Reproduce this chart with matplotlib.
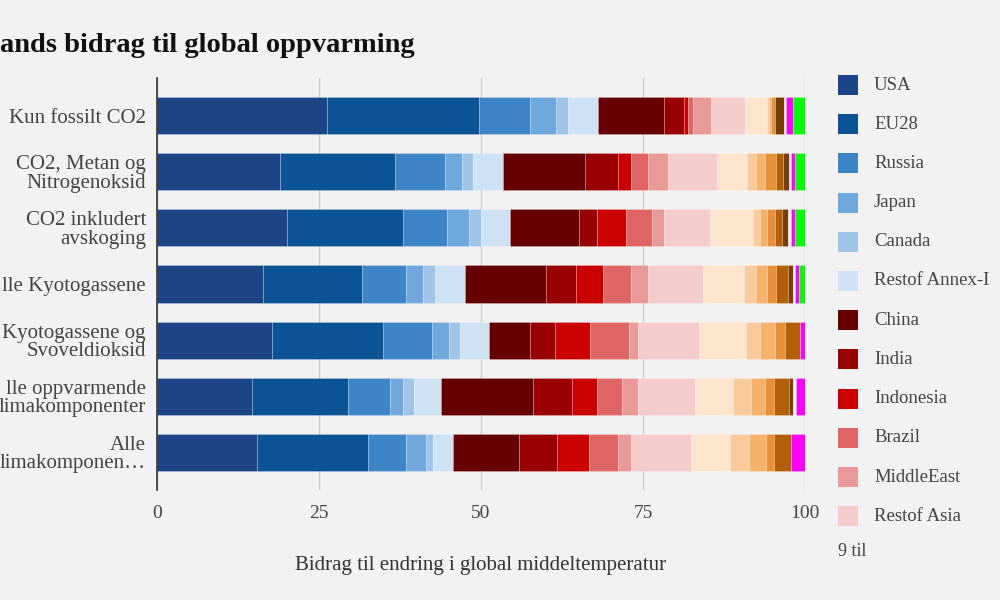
import numpy as np
import matplotlib
matplotlib.use("Agg")
import matplotlib.pyplot as plt
from matplotlib.patches import Rectangle

plt.rcParams['font.family'] = ['Liberation Serif', 'DejaVu Serif']

# categories (top to bottom), as they show in the cropped picture
categories = ["Kun fossilt CO2",
              "CO2, Metan og\nNitrogenoksid",
              "CO2 inkludert\navskoging",
              "lle Kyotogassene",
              "Kyotogassene og\nSvoveldioksid",
              "lle oppvarmende\nlimakomponenter",
              "Alle\nlimakomponen\u2026"]

regions = ["USA", "EU28", "Russia", "Japan", "Canada", "Restof Annex-I",
           "China", "India", "Indonesia", "Brazil", "MiddleEast", "Restof Asia",
           "Restof LatAm", "Mexico", "SouthAfrica", "Restof Africa", "Korea",
           "Australia", "Other", "Shipping", "Aviation"]

colors = ["#1c4587", "#0b5394", "#3d85c6", "#6fa8dc", "#9fc5e8", "#cfe2f3",
          "#660000", "#990000", "#cc0000", "#e06666", "#ea9999", "#f4cccc",
          "#fce5cd", "#f9cb9c", "#f6b26b", "#e69138", "#b45f06",
          "#783f04", "#f3f3f3", "#ff00ff", "#00ff00"]

# share (%) of each region, one value per category
usa       = [26.2, 19.0, 20.1, 16.4, 17.7, 14.7, 15.5]
eu28      = [23.5, 17.8, 17.9, 15.3, 17.1, 14.8, 17.1]
russia    = [7.9, 7.6, 6.8, 6.8, 7.7, 6.4, 5.8]
japan     = [4.0, 2.6, 3.3, 2.6, 2.6, 2.1, 3.1]
canada    = [1.9, 1.8, 1.9, 1.8, 1.7, 1.7, 1.1]
rest_ann1 = [4.5, 4.6, 4.5, 4.7, 4.4, 4.1, 3.1]
china     = [10.3, 12.7, 10.7, 12.4, 6.4, 14.3, 10.2]
india     = [3.1, 5.1, 2.7, 4.7, 3.8, 6.0, 5.8]
indonesia = [0.6, 1.9, 4.5, 4.2, 5.4, 3.8, 4.9]
brazil    = [0.7, 2.6, 4.0, 4.2, 6.0, 3.8, 4.6]
mideast   = [2.8, 3.1, 1.9, 2.6, 1.5, 2.6, 1.9]
rest_asia = [5.2, 7.6, 7.1, 8.5, 9.3, 8.7, 9.3]
rest_lat  = [3.5, 4.7, 6.5, 6.4, 7.3, 5.9, 6.0]
mexico    = [0.2, 1.4, 1.2, 1.9, 2.2, 2.8, 2.9]
s_africa  = [0.3, 1.4, 1.1, 1.7, 2.2, 2.2, 2.7]
rest_afr  = [0.6, 1.6, 1.1, 1.3, 1.6, 1.3, 1.2]
korea     = [0.0, 1.1, 1.1, 1.8, 2.3, 2.4, 2.7]
australia = [1.5, 1.0, 0.9, 0.9, 0.0, 0.6, 0.0]
other     = [0.3, 0.3, 0.6, 0.3, 0.0, 0.4, 0.0]
shipping  = [1.1, 0.5, 0.6, 0.5, 0.8, 1.4, 2.1]
aviation  = [1.8, 1.6, 1.5, 1.0, 0.0, 0.0, 0.0]

series = [usa, eu28, russia, japan, canada, rest_ann1, china, india,
          indonesia, brazil, mideast, rest_asia, rest_lat, mexico, s_africa,
          rest_afr, korea, australia, other, shipping, aviation]

ticks = [0, 25, 50, 75, 100]

bg = "#f2f2f2"
fig = plt.figure(figsize=(10, 6), dpi=100, facecolor=bg)
ax = fig.add_axes([0.157, 0.1833, 0.648, 0.6867], facecolor=bg)

y = np.arange(len(categories))
left = np.zeros(len(categories))
for vals, col, name in zip(series, colors, regions):
    ax.barh(y, vals, left=left, height=0.66, color=col, label=name,
            edgecolor=(1, 1, 1, 0.3), linewidth=0.5, zorder=3)
    left += np.array(vals)

ax.set_xlim(0, 100)
ax.set_ylim(len(categories) - 0.33, -0.67)
ax.set_xticks(ticks)
ax.set_xticklabels([str(t) for t in ticks], fontsize=14, color="#444444")
ax.set_yticks(y)
ax.set_yticklabels(categories, fontsize=15, color="#444444", linespacing=0.95)
ax.tick_params(axis="both", length=0)
ax.tick_params(axis="x", pad=11)
ax.tick_params(axis="y", pad=8)
ax.grid(axis="x", color="#cccccc", linewidth=1, zorder=0)
for s in ["top", "right", "bottom"]:
    ax.spines[s].set_visible(False)
ax.spines["left"].set_color("#333333")
ax.spines["left"].set_linewidth(1.2)
ax.spines["left"].set_zorder(4)

ax.set_xlabel("Bidrag til endring i global middeltemperatur", fontsize=15,
              color="#333333", labelpad=24)

fig.text(0.0, 1 - 52 / 600, "ands bidrag til global oppvarming",
         fontsize=20.5, fontweight="bold", color="#111111", va="baseline")

# legend, first page only
for i in range(12):
    yc = 85 + i * 39.2
    fig.patches.append(Rectangle((838 / 1000, 1 - (yc + 10) / 600), 20 / 1000, 20 / 600,
                                 transform=fig.transFigure, facecolor=colors[i],
                                 edgecolor="none"))
    fig.text(874 / 1000, 1 - yc / 600, regions[i], fontsize=13.5,
             color="#444444", va="center")
fig.text(838 / 1000, 1 - 551 / 600, "9 til", fontsize=13, color="#444444", va="center")

fig.savefig("out.png", dpi=100, facecolor=bg)
